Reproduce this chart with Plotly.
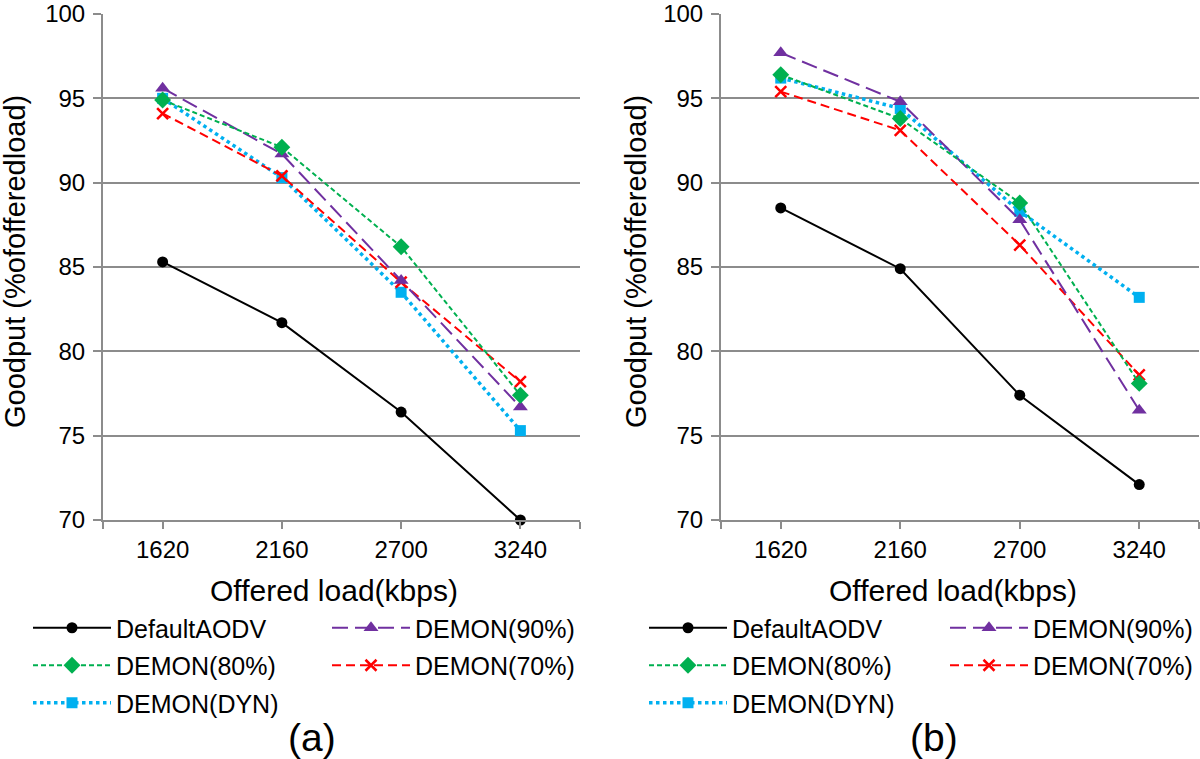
import plotly.graph_objects as go

loads = [1620, 2160, 2700, 3240]
tick_labels = ["1620", "2160", "2700", "3240"]
series_names = ["DefaultAODV", "DEMON(90%)", "DEMON(80%)", "DEMON(70%)", "DEMON(DYN)"]

# Panel (a)
a_aodv = [85.3, 81.7, 76.4, 70.0]
a_d90 = [95.6, 91.7, 84.2, 76.7]
a_d80 = [94.9, 92.1, 86.2, 77.4]
a_d70 = [94.1, 90.4, 84.1, 78.2]
a_dyn = [95.0, 90.3, 83.5, 75.3]

# Panel (b)
b_aodv = [88.5, 84.9, 77.4, 72.1]
b_d90 = [97.7, 94.8, 87.8, 76.5]
b_d80 = [96.4, 93.8, 88.8, 78.1]
b_d70 = [95.4, 93.1, 86.3, 78.6]
b_dyn = [96.2, 94.4, 88.3, 83.2]

FONT = "Liberation Sans, Arial, sans-serif"
GRID = "#8c8c8c"

styles = {
    "DefaultAODV": dict(color="#000000", dash="solid", width=2, symbol="circle", size=11),
    "DEMON(90%)": dict(color="#7030A0", dash="16px,7px", width=2, symbol="triangle-up", size=13),
    "DEMON(80%)": dict(color="#00B050", dash="5px,3px", width=2, symbol="diamond", size=13),
    "DEMON(70%)": dict(color="#FF0000", dash="9px,5px", width=2, symbol="x-thin", size=11),
    "DEMON(DYN)": dict(color="#00B0F0", dash="3.5px,3.5px", width=3.5, symbol="square", size=11),
}

col1 = ["DefaultAODV", "DEMON(80%)", "DEMON(DYN)"]

fig = go.Figure()

panels = [
    ("x", "y", {"DefaultAODV": a_aodv, "DEMON(90%)": a_d90, "DEMON(80%)": a_d80,
                "DEMON(70%)": a_d70, "DEMON(DYN)": a_dyn}, ("legend", "legend2")),
    ("x2", "y2", {"DefaultAODV": b_aodv, "DEMON(90%)": b_d90, "DEMON(80%)": b_d80,
                  "DEMON(70%)": b_d70, "DEMON(DYN)": b_dyn}, ("legend3", "legend4")),
]

draw_order = ["DefaultAODV", "DEMON(DYN)", "DEMON(70%)", "DEMON(90%)", "DEMON(80%)"]
legend_order = {"DefaultAODV": 1, "DEMON(80%)": 2, "DEMON(DYN)": 3, "DEMON(90%)": 1, "DEMON(70%)": 2}

for pi, (xa, ya, data, legs) in enumerate(panels):
    for name in draw_order:
        st = styles[name]
        mk = dict(symbol=st["symbol"], size=st["size"], color=st["color"])
        if st["symbol"] == "x-thin":
            mk["line"] = dict(color=st["color"], width=2.5)
        fig.add_trace(go.Scatter(
            x=loads, y=data[name], name=name, mode="lines+markers",
            xaxis=xa, yaxis=ya,
            line=dict(color=st["color"], dash=st["dash"], width=st["width"]),
            marker=mk, cliponaxis=False,
            legend=legs[0] if name in col1 else legs[1],
            legendgroup=f"{pi}-{name}", legendrank=legend_order[name],
        ))

H = 759.0
W = 1200.0
ydom = [1 - 520 / H, 1 - 14 / H]

xaxis_common = dict(
    range=[1350, 3510], tickmode="array",
    tickvals=[1350] + loads + [3510], ticktext=[""] + tick_labels + [""],
    showgrid=False, showline=True, linecolor=GRID, linewidth=2,
    ticks="outside", ticklen=7, tickwidth=2, tickcolor=GRID,
    tickfont=dict(size=24, color="#000", family=FONT), zeroline=False,
    automargin=False,
)
yaxis_common = dict(
    range=[70, 100], dtick=5, tick0=70, showgrid=True, gridcolor=GRID, gridwidth=2,
    showline=True, linecolor=GRID, linewidth=2, ticks="outside", ticklen=8,
    tickwidth=2, tickcolor=GRID, tickfont=dict(size=24, color="#000", family=FONT),
    zeroline=False, automargin=False, ticklabelstandoff=3,
)

fig.update_layout(
    width=1200, height=759,
    margin=dict(l=0, r=0, t=0, b=0, autoexpand=False),
    paper_bgcolor="white", plot_bgcolor="white",
    font=dict(family=FONT, color="#000"),
    xaxis=dict(domain=[103 / W, 580 / W], anchor="y", **xaxis_common),
    yaxis=dict(domain=ydom, anchor="x", **yaxis_common),
    xaxis2=dict(domain=[721 / W, 1199 / W], anchor="y2", **xaxis_common),
    yaxis2=dict(domain=ydom, anchor="x2", **yaxis_common),
)

leg_common = dict(
    orientation="v", xanchor="left", yanchor="top", bgcolor="rgba(0,0,0,0)",
    font=dict(size=25, family=FONT, color="#000"), itemwidth=78,
    tracegroupgap=2, traceorder="grouped", borderwidth=0,
)
legy = 1 - 605 / H
fig.update_layout(
    legend=dict(x=28 / W, y=legy, **leg_common),
    legend2=dict(x=327 / W, y=legy, **leg_common),
    legend3=dict(x=644 / W, y=legy, **leg_common),
    legend4=dict(x=945 / W, y=legy, **leg_common),
)

ann = [
    dict(text="Offered load(kbps)", x=334 / W, y=1 - 590 / H, font=dict(size=30)),
    dict(text="Offered load(kbps)", x=953 / W, y=1 - 590 / H, font=dict(size=30)),
    dict(text="(a)", x=312 / W, y=1 - 737 / H, font=dict(size=39)),
    dict(text="(b)", x=934 / W, y=1 - 737 / H, font=dict(size=39)),
    dict(text="Goodput (%ofofferedload)", x=15 / W, y=1 - 262 / H, textangle=-90, font=dict(size=29)),
    dict(text="Goodput (%ofofferedload)", x=636 / W, y=1 - 262 / H, textangle=-90, font=dict(size=29)),
]
for a in ann:
    a.update(xref="paper", yref="paper", showarrow=False, xanchor="center", yanchor="middle")
    a["font"] = dict(family=FONT, color="#000", **a["font"])
    fig.add_annotation(**a)

fig.write_html(
    "out.html",
    config={"displayModeBar": False},
    post_script="document.body.style.margin='0px';document.body.style.overflow='hidden';",
)
